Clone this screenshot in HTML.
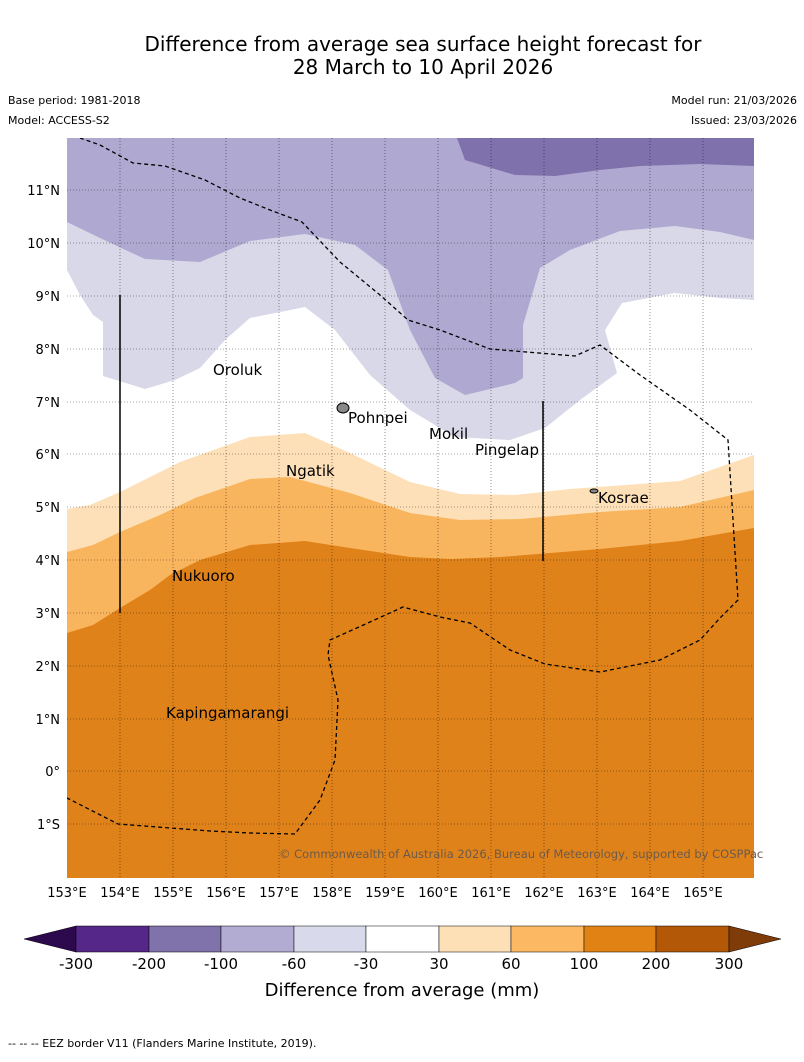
<!DOCTYPE html>
<html><head><meta charset="utf-8"><style>
body{margin:0;background:#fff;width:804px;height:1058px;overflow:hidden;font-family:"DejaVu Sans","Liberation Sans",sans-serif}
</style></head><body>
<svg width="804" height="1058" xmlns="http://www.w3.org/2000/svg" font-family="DejaVu Sans, Liberation Sans, sans-serif">
<text x="423" y="51" font-size="20" text-anchor="middle">Difference from average sea surface height forecast for</text>
<text x="423" y="74" font-size="20" text-anchor="middle">28 March to 10 April 2026</text>
<text x="8" y="104" font-size="11">Base period: 1981-2018</text>
<text x="8" y="124" font-size="11">Model: ACCESS-S2</text>
<text x="797" y="104" font-size="11" text-anchor="end">Model run: 21/03/2026</text>
<text x="797" y="124" font-size="11" text-anchor="end">Issued: 23/03/2026</text>
<defs><clipPath id="mc"><rect x="67" y="138" width="687" height="740"/></clipPath></defs>
<g clip-path="url(#mc)">
<rect x="67" y="138" width="687" height="740" fill="#e0821a"/>
<path fill="#f9b55e" d="M67,633 L93,625 120,608 150,590 170,575 200,560 250,545 305,541 350,548 410,557 450,559 500,557 600,549 680,541 754,528 754,138 67,138Z"/>
<path fill="#fde0b8" d="M67,552 L93,545 120,532 160,515 195,498 250,479 290,477 350,493 410,513 460,520 520,519 600,512 680,507 754,490 754,138 67,138Z"/>
<path fill="#ffffff" d="M67,509 L90,505 120,492 180,462 250,437 305,433 350,453 410,482 460,494 515,495 570,489 680,481 754,455 754,138 67,138Z"/>
<path fill="#d8d8e8" d="M67,270 L80,295 93,315 103,322 103,376 145,389 175,380 200,368 225,340 250,318 305,307 335,330 370,375 410,410 455,437 510,440 545,428 580,400 617,373 605,330 622,303 675,293 720,298 754,300 754,138 67,138Z"/>
<path fill="#afa8d0" d="M67,222 L100,238 145,259 200,262 250,241 305,234 355,245 388,270 410,330 435,378 465,395 515,383 523,378 523,325 540,268 570,250 620,231 675,226 720,232 754,240 754,138 67,138Z"/>
<path fill="#7f71ab" d="M457,138 L465,160 515,175 555,176 600,170 640,166 700,164 754,166 754,138Z"/>
<g stroke="#000" stroke-width="0.6" stroke-dasharray="1,2" opacity="0.7">
<line x1="120" y1="138" x2="120" y2="878"/><line x1="173" y1="138" x2="173" y2="878"/><line x1="226" y1="138" x2="226" y2="878"/><line x1="279" y1="138" x2="279" y2="878"/><line x1="332" y1="138" x2="332" y2="878"/><line x1="385" y1="138" x2="385" y2="878"/><line x1="438" y1="138" x2="438" y2="878"/><line x1="491" y1="138" x2="491" y2="878"/><line x1="544" y1="138" x2="544" y2="878"/><line x1="597" y1="138" x2="597" y2="878"/><line x1="650" y1="138" x2="650" y2="878"/><line x1="703" y1="138" x2="703" y2="878"/>
<line x1="67" y1="190" x2="754" y2="190"/><line x1="67" y1="243" x2="754" y2="243"/><line x1="67" y1="296" x2="754" y2="296"/><line x1="67" y1="349" x2="754" y2="349"/><line x1="67" y1="402" x2="754" y2="402"/><line x1="67" y1="454" x2="754" y2="454"/><line x1="67" y1="507" x2="754" y2="507"/><line x1="67" y1="560" x2="754" y2="560"/><line x1="67" y1="613" x2="754" y2="613"/><line x1="67" y1="666" x2="754" y2="666"/><line x1="67" y1="719" x2="754" y2="719"/><line x1="67" y1="771" x2="754" y2="771"/><line x1="67" y1="824" x2="754" y2="824"/>
</g>
<g fill="none" stroke="#000" stroke-width="1.3" stroke-dasharray="4,3">
<path d="M80,138 L100,145 133,163 165,166 205,180 240,198 270,210 302,222 340,262 380,295 408,320 440,330 490,349 575,356 600,345 640,375 690,410 728,440 738,600 720,618 700,640 660,660 600,672 545,664 510,650 470,623 440,617 403,607 370,622 330,640 328,655 338,700 335,760 320,800 295,834 250,833 210,831 118,824 67,798"/>
</g>
<g stroke="#000" stroke-width="1.5">
<line x1="120" y1="295" x2="120" y2="613"/><line x1="543" y1="401" x2="543" y2="561"/>
</g>
<ellipse cx="343" cy="408" rx="6" ry="5" fill="#888" stroke="#000"/>
<ellipse cx="594" cy="491" rx="4" ry="2" fill="#888" stroke="#000"/>
<g font-size="15" fill="#000">
<text x="213" y="375">Oroluk</text><text x="348" y="423">Pohnpei</text><text x="429" y="439">Mokil</text><text x="475" y="455">Pingelap</text><text x="286" y="476">Ngatik</text><text x="598" y="503">Kosrae</text><text x="172" y="581">Nukuoro</text><text x="166" y="718">Kapingamarangi</text>
</g>
</g>
<text x="279" y="858" font-size="11.5" fill="#6b5a4a">© Commonwealth of Australia 2026, Bureau of Meteorology, supported by COSPPac</text>
<g font-size="13" text-anchor="end">
<text x="60" y="195">11°N</text><text x="60" y="248">10°N</text><text x="60" y="301">9°N</text><text x="60" y="354">8°N</text><text x="60" y="407">7°N</text><text x="60" y="459">6°N</text><text x="60" y="512">5°N</text><text x="60" y="565">4°N</text><text x="60" y="618">3°N</text><text x="60" y="671">2°N</text><text x="60" y="724">1°N</text><text x="60" y="776">0°</text><text x="60" y="829">1°S</text>
</g>
<g font-size="13" text-anchor="middle">
<text x="67" y="897">153°E</text><text x="120" y="897">154°E</text><text x="173" y="897">155°E</text><text x="226" y="897">156°E</text><text x="279" y="897">157°E</text><text x="332" y="897">158°E</text><text x="385" y="897">159°E</text><text x="438" y="897">160°E</text><text x="491" y="897">161°E</text><text x="544" y="897">162°E</text><text x="597" y="897">163°E</text><text x="650" y="897">164°E</text><text x="703" y="897">165°E</text>
</g>
<g stroke="#000" stroke-width="0.5">
<polygon points="76,926 76,952 24,939" fill="#2d0a4e"/>
<rect x="76" y="926" width="73" height="26" fill="#542788"/>
<rect x="149" y="926" width="72" height="26" fill="#8073ac"/>
<rect x="221" y="926" width="73" height="26" fill="#b2abd2"/>
<rect x="294" y="926" width="72" height="26" fill="#d8daeb"/>
<rect x="366" y="926" width="73" height="26" fill="#ffffff"/>
<rect x="439" y="926" width="72" height="26" fill="#fee0b6"/>
<rect x="511" y="926" width="73" height="26" fill="#fdb863"/>
<rect x="584" y="926" width="72" height="26" fill="#e08214"/>
<rect x="656" y="926" width="73" height="26" fill="#b35806"/>
<polygon points="729,926 729,952 781,939" fill="#7f3b08"/>
</g>
<g font-size="15" text-anchor="middle">
<text x="76" y="969">-300</text><text x="149" y="969">-200</text><text x="221" y="969">-100</text><text x="294" y="969">-60</text><text x="366" y="969">-30</text><text x="439" y="969">30</text><text x="511" y="969">60</text><text x="584" y="969">100</text><text x="656" y="969">200</text><text x="729" y="969">300</text>
</g>
<text x="402" y="996" font-size="18" text-anchor="middle">Difference from average (mm)</text>
<text x="8" y="1047" font-size="11">-- -- -- EEZ border V11 (Flanders Marine Institute, 2019).</text>
</svg>
</body></html>
